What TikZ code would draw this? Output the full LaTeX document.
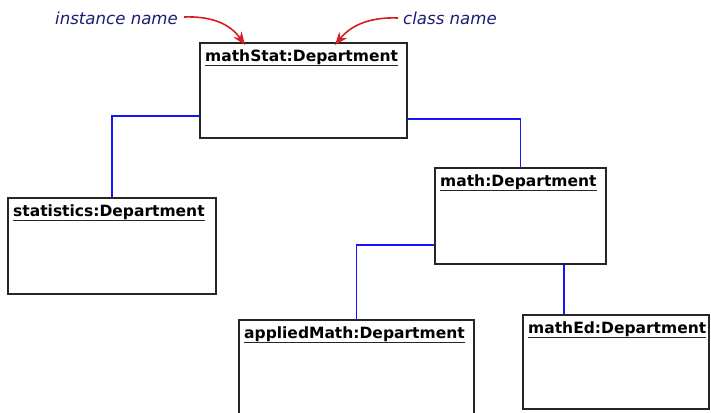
\documentclass[tikz,border=0pt]{standalone}
\usepackage{fontspec}
\usetikzlibrary{arrows.meta,calc}
\newfontfamily\boxfont{DejaVu Sans}
\definecolor{notenavy}{RGB}{28,28,118}
\definecolor{notered}{RGB}{214,30,36}
\definecolor{linkblue}{RGB}{20,20,255}
\tikzset{
  objbox/.style={draw=black!85, line width=1.6pt, fill=white, inner sep=0pt, anchor=north west},
  ttl/.style={inner sep=0pt, anchor=base west, font=\boxfont\bfseries\fontsize{15.5}{18}\selectfont},
  uline/.style={line width=1.3pt, black!85},
  link/.style={draw=linkblue, line width=1.4pt},
  note/.style={inner sep=0pt, anchor=base west, text=notenavy, font=\boxfont\itshape\fontsize{16.6}{19}\selectfont},
  pointer/.style={draw=notered, line width=1.6pt, -{Stealth[length=13pt,width=10pt]}}
}
\begin{document}
\begin{tikzpicture}[x=1pt, y=-1pt]
\useasboundingbox (0,0) rectangle (711,412);
\clip (0,0) rectangle (711,412);

% object boxes
\node[objbox, minimum width=207pt, minimum height=95pt] (ms) at (199,42) {};
\node[objbox, minimum width=208pt, minimum height=96pt] (st) at (7,197) {};
\node[objbox, minimum width=171pt, minimum height=96pt] (m)  at (434,167) {};
\node[objbox, minimum width=235pt, minimum height=120pt] (am) at (238,319) {};
\node[objbox, minimum width=186pt, minimum height=94pt] (md) at (522,314) {};

% links between objects
\draw[link] ([yshift=-25.5pt]ms.west) -| (st.north);
\draw[link] ([yshift=-28.5pt]ms.east) -| (m.north);
\draw[link] ([yshift=-29pt]m.west) -| (am.north);
\draw[link] ([xshift=43.5pt]m.south) -- ([xshift=43.5pt]m.south |- md.north);

% object titles, underlined
\foreach \b/\t in {ms/mathStat:Department, st/statistics:Department,
                   m/math:Department, am/appliedMath:Department, md/mathEd:Department}{
  \node[ttl] (\b T) at ($(\b.north west)+(6,19)$) {\t};
  \draw[uline] ($(\b T.base west)+(0,4.5)$) -- ($(\b T.base east)+(0,4.5)$);
}

% annotations
\node[note] (inst) at (55,25) {instance name};
\node[note] (cls) at (403,25) {class name};
\coordinate (instTip) at (245,45);
\coordinate (clsTip) at (335,45);
\draw[pointer] ([xshift=6pt,yshift=8pt]inst.base east) .. controls (212,16) and (230,24) .. (instTip);
\draw[pointer] ([xshift=-5pt,yshift=7pt]cls.base west) .. controls (372,17) and (352,24) .. (clsTip);
\end{tikzpicture}
\end{document}
